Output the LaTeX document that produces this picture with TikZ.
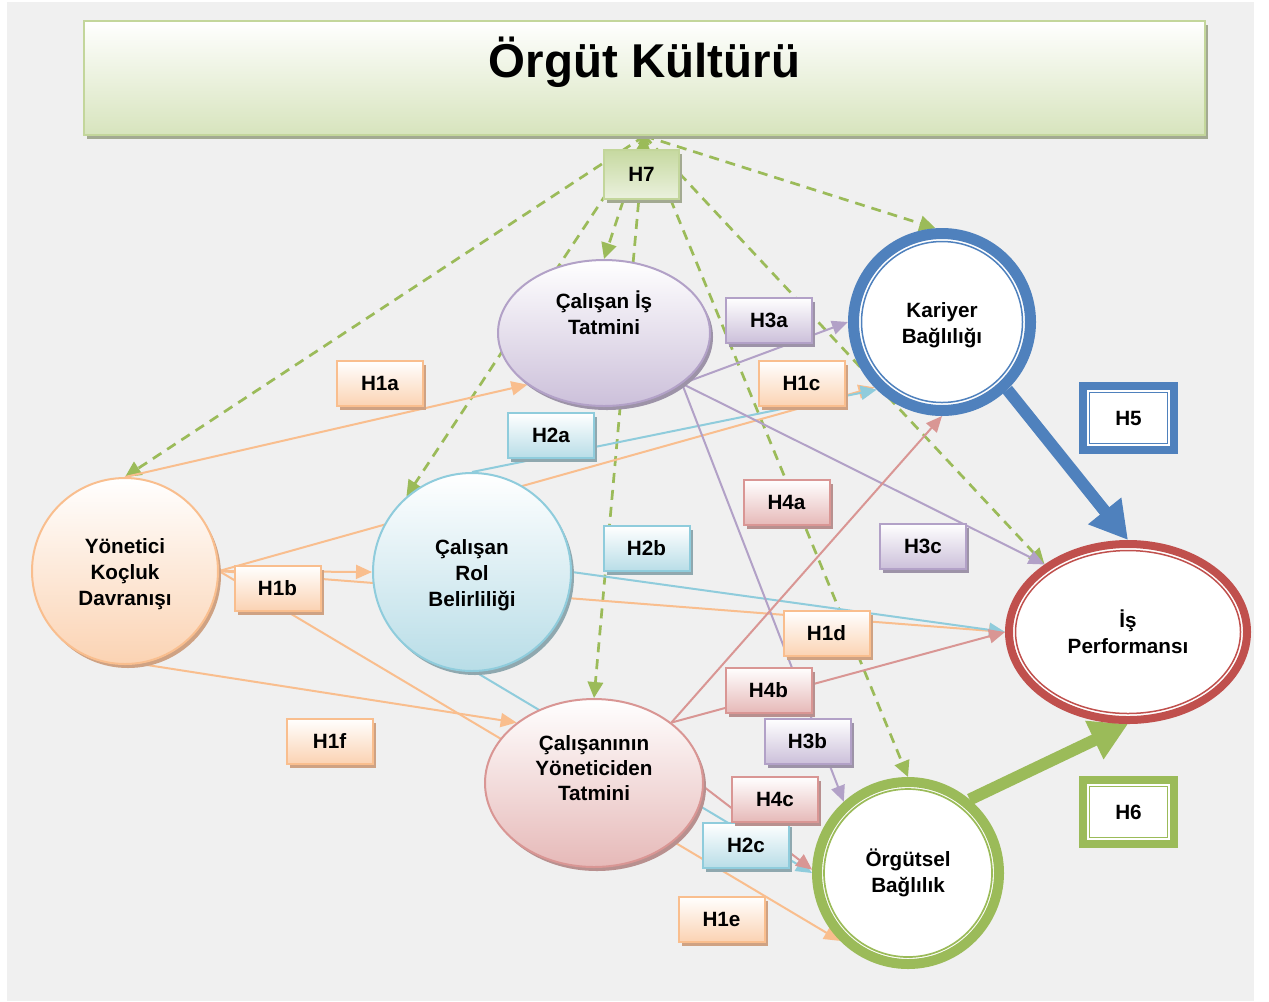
\documentclass[tikz,border=0pt]{standalone}
\usepackage{fontspec}
\setmainfont{Liberation Sans}
\usetikzlibrary{arrows.meta,shapes.geometric,shadows}
\newlength\pxu
\setlength\pxu{0.75pt}
\pgfdeclarelayer{bg}
\pgfdeclarelayer{edges}
\pgfsetlayers{bg,edges,main}

\definecolor{canvas}{HTML}{F0F0F0}
\definecolor{orline}{HTML}{F9BE8E}
\definecolor{orfill}{HTML}{FBD3B3}
\definecolor{orshadow}{HTML}{CFA283}
\definecolor{blline}{HTML}{8FCCDC}
\definecolor{blfill}{HTML}{B8DDE7}
\definecolor{blshadow}{HTML}{8FA8AF}
\definecolor{puline}{HTML}{B2A1C7}
\definecolor{pufill}{HTML}{CCC0DA}
\definecolor{pushadow}{HTML}{9D93A8}
\definecolor{rdline}{HTML}{D99694}
\definecolor{rdfill}{HTML}{E6B9B8}
\definecolor{rdshadow}{HTML}{B8908F}
\definecolor{gnline}{HTML}{9BBB59}
\definecolor{gnborder}{HTML}{C3D69B}
\definecolor{gnfill}{HTML}{D7E4BD}
\definecolor{gntop}{HTML}{C6D9A0}
\definecolor{gnlow}{HTML}{EBF1DE}
\definecolor{gnshadow}{HTML}{A3AA92}
\definecolor{ringblue}{HTML}{4F81BD}
\definecolor{ringred}{HTML}{C0504D}

\tikzset{
  txt/.style={font=\fontsize{15.5}{19.5}\selectfont\bfseries, align=center, text=black},
  shad/.style={drop shadow={shadow xshift=3\pxu, shadow yshift=-4\pxu, fill=#1, opacity=1}},
  hyp/.style={txt, rectangle, minimum width=86\pxu, minimum height=45\pxu, inner sep=0pt, line width=2\pxu},
  hor/.style={hyp, draw=orline, top color=white, bottom color=orfill, shad=orshadow},
  hbl/.style={hyp, draw=blline, top color=white, bottom color=blfill, shad=blshadow},
  hpu/.style={hyp, draw=puline, top color=white, bottom color=pufill, shad=pushadow},
  hrd/.style={hyp, draw=rdline, top color=white, bottom color=rdfill, shad=rdshadow},
  varnode/.style={txt, inner sep=0pt, line width=2\pxu},
  inlabel/.style={label={[txt, yshift=-3.5\pxu]center:{#1}}},
  ringnode/.style={txt, inner sep=0pt, fill=white},
  frame/.style={txt, rectangle, inner sep=0pt, fill=white, line width=8\pxu, minimum width=91\pxu, minimum height=64\pxu},
  tip/.style={-{Triangle[length=12pt,width=10.5pt]}},
  link/.style={line width=2\pxu, tip, draw=#1},
  gdash/.style={draw=gnline, line width=2.7\pxu, dash pattern=on 10\pxu off 7\pxu, -{Triangle[length=12pt,width=11.5pt]}},
  bigarrow/.style={draw=#1, line width=9pt, -{Triangle[length=28pt,width=30pt]}}
}

\begin{document}
\begin{tikzpicture}[x=0.75pt,y=-0.75pt]
\useasboundingbox (0,0) rectangle (1269,1001);
\begin{pgfonlayer}{bg}
  \fill[white] (0,0) rectangle (1269,1001);
  \fill[canvas] (7,2) rectangle (1254,1001);
\end{pgfonlayer}

% title block
\node[rectangle, draw=gnborder, line width=2\pxu, top color=white, bottom color=gnfill,
      minimum width=1121\pxu, minimum height=114\pxu, inner sep=0pt, shad=gnshadow] (tit) at (644.5,78) {};
\node[font=\fontsize{35.6}{40}\selectfont\bfseries, anchor=base, inner sep=0pt] (tittext) at (644.5,77) {Örgüt Kültürü};

% latent variables
\node[varnode, circle, minimum size=186\pxu, draw=orline, top color=white, bottom color=orfill, shad=orshadow,
      inlabel={Yönetici\\Koçluk\\Davranışı}] (yon) at (125,571) {};
\node[varnode, circle, minimum size=198\pxu, draw=blline, top color=white, bottom color=blfill, shad=blshadow,
      inlabel={Çalışan\\Rol\\Belirliliği}] (rol) at (472,572) {};
\node[varnode, ellipse, minimum width=212\pxu, minimum height=146\pxu, draw=puline, top color=white, bottom color=pufill, shad=pushadow]
  (tat) at (604,333) {};
\node[txt] (tattext) at (604,313) {Çalışan İş\\Tatmini};
\node[varnode, ellipse, minimum width=218\pxu, minimum height=168\pxu, draw=rdline, top color=white, bottom color=rdfill, shad=rdshadow]
  (ytat) at (594,783) {};
\node[txt, font=\fontsize{15.5}{18.5}\selectfont\bfseries] (ytattext) at (594,768) {Çalışanının\\Yöneticiden\\Tatmini};

% outcome variables with double rings
\node[ringnode, circle, minimum size=177\pxu, draw=ringblue, line width=11\pxu,
      inlabel={Kariyer\\Bağlılığı}] (kar) at (942,322) {};
\draw[ringblue, line width=1.5\pxu] (kar.center) circle[radius=80.5\pxu];
\node[ringnode, ellipse, minimum width=238\pxu, minimum height=176\pxu, draw=ringred, line width=8\pxu] (perf) at (1128,632) {İş\\Performansı};
\draw[ringred, line width=1.5\pxu] (perf.center) ellipse[x radius=112.5\pxu, y radius=81.5\pxu];
\node[ringnode, circle, minimum size=182\pxu, draw=gnline, line width=10\pxu] (org) at (908,873) {Örgütsel\\Bağlılık};
\draw[gnline, line width=1.7\pxu] (org.center) circle[radius=84\pxu];

% framed hypothesis labels
\node[frame, draw=ringblue] (h5) at (1128.5,418) {H5};
\draw[ringblue, line width=1.5\pxu] ([shift={(-39\pxu,25.5\pxu)}]h5.center) rectangle ([shift={(39\pxu,-25.5\pxu)}]h5.center);
\node[frame, draw=gnline] (h6) at (1128.5,812) {H6};
\draw[gnline, line width=1.5\pxu] ([shift={(-39\pxu,25.5\pxu)}]h6.center) rectangle ([shift={(39\pxu,-25.5\pxu)}]h6.center);

% hypothesis labels
\node[hor] (h1a) at (380,383.5) {H1a};
\node[hor] (h1b) at (277.5,588) {H1b};
\node[hor] (h1c) at (801.5,383.5) {H1c};
\node[hor] (h1d) at (826.5,633.5) {H1d};
\node[hor] (h1e) at (721.5,919) {H1e};
\node[hor] (h1f) at (329.5,741) {H1f};
\node[hbl] (h2a) at (551,435.5) {H2a};
\node[hbl] (h2b) at (646.5,548.5) {H2b};
\node[hbl] (h2c) at (746,845.5) {H2c};
\node[hpu] (h3a) at (769,320) {H3a};
\node[hpu] (h3b) at (807.5,741) {H3b};
\node[hpu] (h3c) at (923,546) {H3c};
\node[hrd] (h4a) at (786.5,502.5) {H4a};
\node[hrd] (h4b) at (768.5,690) {H4b};
\node[hrd] (h4c) at (775,799.5) {H4c};
\node[hyp, minimum width=75\pxu, minimum height=49\pxu, draw=gnborder, top color=gntop, bottom color=gnlow, shad=gnshadow] (h7) at (641.5,174.5) {H7};

\begin{pgfonlayer}{edges}
  % organisational culture links
  \draw[gdash] (tit.south) -- (yon.north);
  \draw[gdash] (tit.south) -- (tat.north);
  \draw[gdash] (tit.south) -- (rol.131);
  \draw[gdash, {Triangle[length=12pt,width=11.5pt]}-{Triangle[length=12pt,width=11.5pt]}] (tit.south) -- (ytat.north);
  \draw[gdash] (tit.south) -- (kar.94);
  \draw[gdash] (tit.south) -- (org.north);
  \draw[gdash] (tit.south) -- (perf.141);

  % coaching behaviour
  \draw[link=orline] (yon.north) -- (tat.214);
  \draw[link=orline] (yon.east) -- (rol.west);
  \draw[link=orline] (yon.east) -- (kar.224);
  \draw[link=orline] (yon.east) -- (perf.west);
  \draw[link=orline] (yon.east) -- (org.225);
  \draw[link=orline] (yon.-81) -- (ytat.142);

  % role clarity
  \draw[link=blline] (rol.north) -- (kar.226);
  \draw[link=blline] (rol.east) -- (perf.west);
  \draw[link=blline] (rol.-88) -- (org.180);

  % job satisfaction
  \draw[link=puline] (tat.-33) -- (kar.west);
  \draw[link=puline] (tat.-33) -- (org.132);
  \draw[link=puline] (tat.-33) -- (perf.141);

  % satisfaction with manager
  \draw[link=rdline] (ytat.38) -- (kar.-90);
  \draw[link=rdline] (ytat.38) -- (perf.west);
  \draw[link=rdline] (ytat.-2) -- (org.178);

  % commitment to performance
  \draw[bigarrow=ringblue] (kar.-46) -- (perf.north);
  \draw[bigarrow=gnline] (org.50) -- (perf.south);
\end{pgfonlayer}
\end{tikzpicture}
\end{document}
